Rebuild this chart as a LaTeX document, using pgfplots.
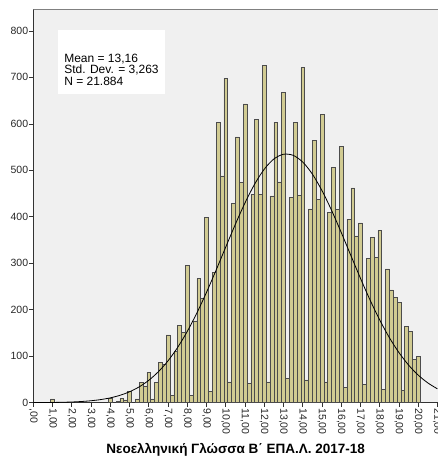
\documentclass[border=0pt]{standalone}
\usepackage{pgfplots}
\pgfplotsset{compat=1.18}
\usepackage{fontspec}
\setmainfont{Liberation Sans}
\definecolor{barfill}{RGB}{209,203,146}
\definecolor{plotbg}{RGB}{240,240,240}

\begin{document}
\begin{tikzpicture}
\path[use as bounding box] (-33.3pt,-56.3pt) rectangle (404.7pt,402.7pt);
\begin{axis}[
  at={(0,0)}, anchor=south west,
  width=404.7pt, height=393.7pt, scale only axis,
  xmin=0, xmax=21.03, ymin=0, ymax=847,
  axis lines=left,
  axis line style={-, draw=black!80, line width=0.6pt},
  axis background/.style={fill=plotbg},
  tick align=outside, major tick length=4pt,
  tick style={black!80, line width=0.6pt},
  xtick={0,...,21}, ytick={0,100,...,800},
  xticklabels={{,00},{1,00},{2,00},{3,00},{4,00},{5,00},{6,00},{7,00},{8,00},{9,00},{10,00},{11,00},{12,00},{13,00},{14,00},{15,00},{16,00},{17,00},{18,00},{19,00},{20,00},{21,00}},
  xticklabel style={rotate=-90, anchor=west, inner sep=1.5pt},
  yticklabel style={inner sep=1pt},
  tick label style={font=\fontsize{10.5}{12}\selectfont, black!85},
  /pgf/number format/assume math mode=true,
  xlabel={Νεοελληνική Γλώσσα Β΄ ΕΠΑ.Λ. 2017-18},
  xlabel style={at={(axis description cs:0.5,0)}, anchor=base, yshift=-51pt,
    font=\bfseries\fontsize{13.5}{15}\selectfont},
]
% histogram, bins of 0.2
\addplot[ybar, bar width=0.2, fill=barfill, draw=black!70, line width=0.5pt]
coordinates {
(1.0,8) (4.0,9) (4.4,3) (4.6,9) (4.8,6) (5.0,24) (5.4,8) (5.6,44) (5.8,36)
(6.0,65) (6.2,8) (6.4,43) (6.6,87) (6.8,82) (7.0,146) (7.2,15) (7.4,110)
(7.6,166) (7.8,152) (8.0,296) (8.2,16) (8.4,176) (8.6,267) (8.8,224)
(9.0,399) (9.2,25) (9.4,280) (9.6,603) (9.8,488) (10.0,698) (10.2,45)
(10.4,429) (10.6,572) (10.8,474) (11.0,643) (11.2,42) (11.4,448) (11.6,610)
(11.8,448) (12.0,725) (12.2,45) (12.4,445) (12.6,603) (12.8,475) (13.0,667)
(13.2,52) (13.4,441) (13.6,603) (13.8,446) (14.0,721) (14.2,49) (14.4,417)
(14.6,565) (14.8,438) (15.0,621) (15.2,45) (15.4,409) (15.6,506) (15.8,416)
(16.0,552) (16.2,33) (16.4,395) (16.6,462) (16.8,359) (17.0,387) (17.2,40)
(17.4,311) (17.6,356) (17.8,313) (18.0,370) (18.2,29) (18.4,288) (18.6,243)
(18.8,227) (19.0,216) (19.2,27) (19.4,164) (19.6,154) (19.8,93) (20.0,99)
};
% normal curve, mean 13.16, sd 3.263
\addplot[black, line width=0.8pt, smooth, no marks]
coordinates {
(0,0.16) (0.5,0.29) (1,0.52) (1.5,0.90) (2,1.54) (2.5,2.57) (3,4.20)
(3.5,6.69) (4,10.41) (4.5,15.81) (5,23.46) (5.5,34.03) (6,48.17) (6.5,66.68)
(7,90.07) (7.5,118.9) (8,153.3) (8.5,193.0) (9,237.4) (9.5,285.3) (10,334.8)
(10.5,383.8) (11,429.8) (11.5,470.1) (12,502.3) (12.5,524.3) (13,534.5)
(13.5,532.2) (14,517.7) (14.5,491.9) (15,456.4) (15.5,413.8) (16,366.4)
(16.5,316.9) (17,267.7) (17.5,220.9) (18,178.1) (18.5,140.2) (19,107.9)
(19.5,81.0) (20,59.4) (20.5,42.6) (21,29.8)
};
\draw[gray, line width=0.8pt] (rel axis cs:0,1) -- (rel axis cs:1,1);
\fill[white] (axis cs:1.27,664) rectangle (axis cs:6.85,802);
\node[anchor=base west, inner sep=0, font=\fontsize{12}{12}\selectfont] at (axis cs:1.6,732.7) {Mean = 13,16};
\node[anchor=base west, inner sep=0, font=\fontsize{12}{12}\selectfont] at (axis cs:1.6,707.5) {Std. Dev. = 3,263};
\node[anchor=base west, inner sep=0, font=\fontsize{12}{12}\selectfont] at (axis cs:1.6,681.7) {N = 21.884};
\end{axis}
\end{tikzpicture}
\end{document}
